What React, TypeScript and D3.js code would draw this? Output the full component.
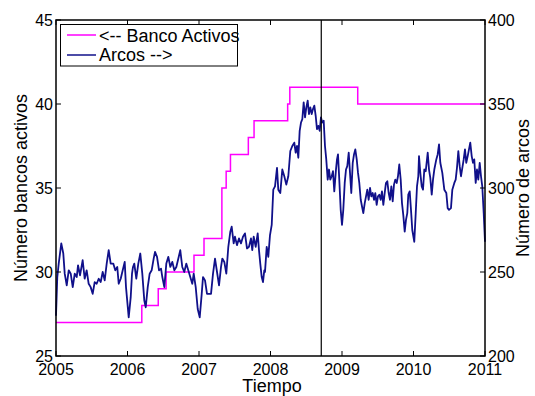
import React from "react";
import * as d3 from "d3";

const xTicks = [2005, 2006, 2007, 2008, 2009, 2010, 2011];
const leftTicks = [25, 30, 35, 40, 45];
const rightTicks = [200, 250, 300, 350, 400];

const bancoT = [2005, 2006.2, 2006.43, 2006.54, 2006.93, 2007.07, 2007.32, 2007.38, 2007.44, 2007.69, 2007.77, 2008.24, 2008.27, 2009.22, 2011];
const bancoV = [27, 28, 29, 30, 31, 32, 35, 36, 37, 38, 39, 40, 41, 40, 40];

const arcosT = [
  2005.0, 2005.018, 2005.038, 2005.074, 2005.102, 2005.122, 2005.15, 2005.178, 2005.206, 2005.234,
  2005.262, 2005.29, 2005.308, 2005.336, 2005.373, 2005.401, 2005.429, 2005.457, 2005.485, 2005.513,
  2005.541, 2005.569, 2005.597, 2005.625, 2005.653, 2005.681, 2005.709, 2005.737, 2005.765, 2005.801,
  2005.829, 2005.857, 2005.877, 2005.905, 2005.933, 2005.961, 2005.979, 2006.017, 2006.045, 2006.063,
  2006.077, 2006.095, 2006.123, 2006.151, 2006.179, 2006.207, 2006.235, 2006.255, 2006.283, 2006.31,
  2006.338, 2006.366, 2006.385, 2006.413, 2006.441, 2006.469, 2006.487, 2006.515, 2006.543, 2006.571,
  2006.599, 2006.627, 2006.655, 2006.683, 2006.711, 2006.738, 2006.766, 2006.794, 2006.822, 2006.85,
  2006.878, 2006.906, 2006.926, 2006.954, 2006.982, 2007.01, 2007.038, 2007.056, 2007.084, 2007.112,
  2007.14, 2007.168, 2007.196, 2007.224, 2007.252, 2007.28, 2007.308, 2007.326, 2007.354, 2007.382,
  2007.41, 2007.438, 2007.457, 2007.485, 2007.503, 2007.531, 2007.559, 2007.587, 2007.615, 2007.643,
  2007.671, 2007.699, 2007.727, 2007.745, 2007.765, 2007.793, 2007.821, 2007.839, 2007.857, 2007.877,
  2007.895, 2007.913, 2007.923, 2007.947, 2007.969, 2007.993, 2008.017, 2008.039, 2008.063, 2008.091,
  2008.109, 2008.137, 2008.165, 2008.193, 2008.221, 2008.249, 2008.277, 2008.305, 2008.333, 2008.352,
  2008.371, 2008.389, 2008.408, 2008.427, 2008.445, 2008.464, 2008.483, 2008.501, 2008.52, 2008.538,
  2008.557, 2008.576, 2008.594, 2008.613, 2008.632, 2008.65, 2008.669, 2008.688, 2008.706, 2008.724,
  2008.744, 2008.762, 2008.78, 2008.8, 2008.818, 2008.836, 2008.856, 2008.874, 2008.892, 2008.916,
  2008.93, 2008.944, 2008.962, 2008.982, 2009.0, 2009.018, 2009.038, 2009.056, 2009.074, 2009.094,
  2009.112, 2009.13, 2009.15, 2009.168, 2009.186, 2009.206, 2009.224, 2009.242, 2009.262, 2009.28,
  2009.298, 2009.318, 2009.336, 2009.354, 2009.373, 2009.392, 2009.41, 2009.429, 2009.448, 2009.466,
  2009.485, 2009.503, 2009.522, 2009.541, 2009.559, 2009.578, 2009.597, 2009.615, 2009.634, 2009.653,
  2009.671, 2009.69, 2009.709, 2009.727, 2009.745, 2009.765, 2009.783, 2009.801, 2009.821, 2009.839,
  2009.857, 2009.877, 2009.895, 2009.913, 2009.927, 2009.947, 2009.965, 2009.983, 2010.011, 2010.031,
  2010.049, 2010.067, 2010.077, 2010.095, 2010.115, 2010.133, 2010.151, 2010.171, 2010.199, 2010.217,
  2010.235, 2010.255, 2010.273, 2010.291, 2010.319, 2010.338, 2010.357, 2010.375, 2010.403, 2010.431,
  2010.459, 2010.478, 2010.497, 2010.524, 2010.543, 2010.571, 2010.59, 2010.608, 2010.627, 2010.646,
  2010.664, 2010.683, 2010.702, 2010.72, 2010.738, 2010.758, 2010.776, 2010.794, 2010.814, 2010.832,
  2010.85, 2010.87, 2010.888, 2010.906, 2010.926, 2010.944, 2010.962, 2010.982, 2011.0,
];
const arcosV = [
  224, 247, 255, 267, 261, 249, 242, 251, 249, 241,
  249, 247, 254, 248, 257, 246, 251, 243, 241, 237,
  244, 243, 246, 244, 250, 245, 255, 263, 255, 255,
  251, 253, 243, 246, 251, 256, 241, 223, 235, 249,
  253, 255, 246, 255, 261, 249, 233, 229, 241, 249,
  251, 258, 262, 259, 251, 252, 247, 241, 255, 259,
  253, 256, 251, 253, 258, 263, 253, 250, 255, 251,
  247, 243, 249, 241, 228, 223, 237, 247, 245, 237,
  237, 237, 249, 258, 250, 242, 253, 258, 256, 249,
  265, 274, 277, 267, 271, 266, 270, 267, 271, 273,
  264, 265, 270, 263, 271, 265, 273, 263, 255, 247,
  244, 251, 250, 265, 259, 272, 278, 299, 301, 312,
  299, 297, 311, 307, 302, 307, 322, 325, 327, 321,
  325, 318, 334, 339, 341, 351, 342, 348, 352, 344,
  348, 344, 347, 349, 343, 335, 337, 334, 342, 339,
  340, 325, 317, 305, 311, 305, 307, 310, 298, 311,
  317, 320, 305, 287, 278, 287, 303, 311, 313, 321,
  309, 297, 315, 320, 323, 317, 309, 303, 293, 289,
  285, 291, 295, 299, 293, 300, 295, 297, 293, 297,
  290, 295, 296, 293, 298, 290, 297, 303, 304, 297,
  293, 301, 292, 302, 305, 303, 307, 314, 305, 291,
  284, 274, 281, 285, 296, 298, 287, 275, 268, 285,
  301, 307, 319, 309, 301, 299, 311, 310, 321, 311,
  306, 296, 305, 311, 317, 320, 326, 315, 309, 299,
  297, 288, 287, 288, 299, 303, 305, 312, 322, 313,
  307, 312, 317, 323, 315, 319, 323, 327, 319, 315,
  317, 303, 311, 305, 315, 307, 301, 285, 268,
];

const crisisT = 2008.71;

const W = 535, H = 396;
const L = 56, R = 485, T = 20, B = 356;
const FONT = "'Liberation Sans', Arial, Helvetica, sans-serif";

export default function App() {
  const x = d3.scaleLinear().domain([2005, 2011]).range([L, R]);
  const yL = d3.scaleLinear().domain([25, 45]).range([B, T]);
  const yR = d3.scaleLinear().domain([200, 400]).range([B, T]);

  const bancoLine = d3
    .line<number>()
    .x((_, i) => x(bancoT[i]))
    .y((d) => yL(d))
    .curve(d3.curveStepAfter);
  const arcosLine = d3
    .line<number>()
    .x((_, i) => x(arcosT[i]))
    .y((d) => yR(d));

  const tl = 5;

  return (
    <svg width={W} height={H} style={{ position: "absolute", left: 0, top: 0, background: "#fff" }} fontFamily={FONT}>
      <rect x={0} y={0} width={W} height={H} fill="#fff" />
      <path d={bancoLine(bancoV) || ""} fill="none" stroke="#ff00ff" strokeWidth={1.5} />
      <path d={arcosLine(arcosV) || ""} fill="none" stroke="#10108a" strokeWidth={1.8} strokeLinejoin="round" />
      <line x1={x(crisisT)} x2={x(crisisT)} y1={T} y2={B} stroke="#000" strokeWidth={1.2} />
      <rect x={L} y={T} width={R - L} height={B - T} fill="none" stroke="#000" strokeWidth={1.5} />
      {xTicks.map((t) => (
        <g key={t}>
          <line x1={x(t)} x2={x(t)} y1={B} y2={B - tl} stroke="#000" />
          <line x1={x(t)} x2={x(t)} y1={T} y2={T + tl} stroke="#000" />
          <text x={x(t)} y={B + 19} fontSize={16} textAnchor="middle" fill="#000">{t}</text>
        </g>
      ))}
      {leftTicks.map((t) => (
        <g key={t}>
          <line x1={L} x2={L + tl} y1={yL(t)} y2={yL(t)} stroke="#000" />
          <text x={L - 3} y={yL(t) + 6} fontSize={16} textAnchor="end" fill="#000">{t}</text>
        </g>
      ))}
      {rightTicks.map((t) => (
        <g key={t}>
          <line x1={R} x2={R - tl} y1={yR(t)} y2={yR(t)} stroke="#000" />
          <text x={R + 3} y={yR(t) + 6} fontSize={16} textAnchor="start" fill="#000">{t}</text>
        </g>
      ))}
      <text x={272} y={392} fontSize={18} textAnchor="middle" fill="#000">Tiempo</text>
      <text transform={`translate(27,${(T + B) / 2}) rotate(-90)`} fontSize={18} textAnchor="middle" fill="#000">Número bancos activos</text>
      <text transform={`translate(529,${(T + B) / 2}) rotate(-90)`} fontSize={18} textAnchor="middle" fill="#000">Número de arcos</text>
      <rect x={60.5} y={24.5} width={177} height={41.5} fill="#fff" stroke="#000" strokeWidth={1} />
      <line x1={67} x2={96} y1={35} y2={35} stroke="#ff00ff" strokeWidth={1.5} />
      <line x1={67} x2={96} y1={55} y2={55} stroke="#10108a" strokeWidth={1.5} />
      <text x={99} y={42} fontSize={18} fill="#000">{"<-- Banco Activos"}</text>
      <text x={99} y={61} fontSize={18} fill="#000">{"Arcos -->"}</text>
    </svg>
  );
}
